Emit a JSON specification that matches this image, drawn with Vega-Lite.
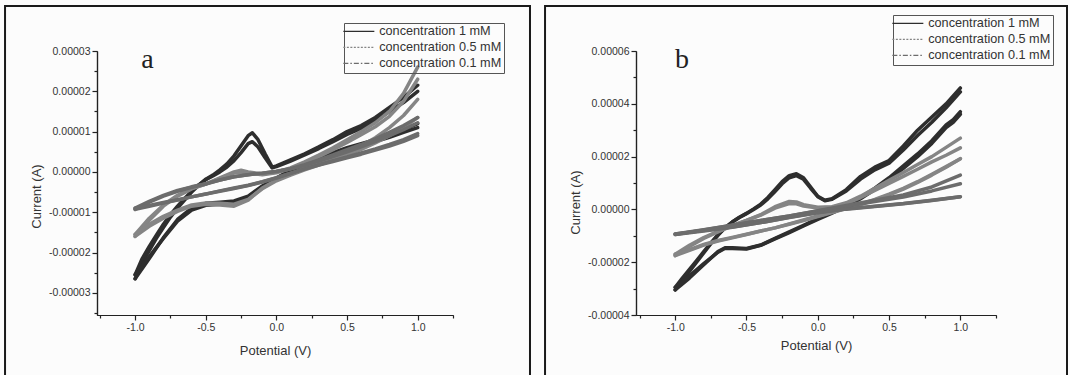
{
  "$schema": "https://vega.github.io/schema/vega-lite/v6.json",
  "autosize": {"type": "pad"},
  "padding": {"left": 4, "top": 4, "right": 4, "bottom": 4},
  "background": "#fcfcfc",
  "spacing": 183,
  "bounds": "flush",
  "config": {
    "view": {"stroke": null},
    "font": "Liberation Sans",
    "axis": {"domainColor": "#222", "tickColor": "#222", "domainWidth": 1.2, "tickWidth": 1.2, "labelFont": "Liberation Sans", "labelFontSize": 10.5, "labelColor": "#333", "titleFont": "Liberation Sans", "titleFontSize": 13, "titleFontWeight": "normal", "titleColor": "#333", "grid": false, "tickSize": 5, "labelPadding": 2},
    "legend": {"labelFont": "Liberation Sans", "labelFontSize": 12.7, "labelColor": "#333", "strokeColor": "#555", "padding": 2, "rowPadding": 2, "symbolType": "M-3.1,0H3.1", "symbolSize": 100, "symbolStrokeWidth": 1.2, "symbolOffset": 6.5, "labelOffset": 14}
  },
  "resolve": {"scale": {"color": "independent", "x": "independent", "y": "independent"}, "legend": {"color": "independent"}},
  "datasets": {
    "a": [
      {"s":"1","c":1,"k":0,"E":-1.0,"I":-2.65e-5},{"s":"1","c":1,"k":1,"E":-0.95,"I":-2.25e-5},{"s":"1","c":1,"k":2,"E":-0.9,"I":-1.95e-5},{"s":"1","c":1,"k":3,"E":-0.85,"I":-1.65e-5},{"s":"1","c":1,"k":4,"E":-0.8,"I":-1.38e-5},{"s":"1","c":1,"k":5,"E":-0.75,"I":-1.12e-5},{"s":"1","c":1,"k":6,"E":-0.7,"I":-0.9e-5},{"s":"1","c":1,"k":7,"E":-0.65,"I":-0.7e-5},{"s":"1","c":1,"k":8,"E":-0.6,"I":-0.5e-5},{"s":"1","c":1,"k":9,"E":-0.55,"I":-0.33e-5},{"s":"1","c":1,"k":10,"E":-0.5,"I":-0.18e-5},{"s":"1","c":1,"k":11,"E":-0.45,"I":-0.08e-5},{"s":"1","c":1,"k":12,"E":-0.4,"I":0.05e-5},{"s":"1","c":1,"k":13,"E":-0.35,"I":0.2e-5},{"s":"1","c":1,"k":14,"E":-0.3,"I":0.4e-5},{"s":"1","c":1,"k":15,"E":-0.25,"I":0.65e-5},{"s":"1","c":1,"k":16,"E":-0.2,"I":0.9e-5},{"s":"1","c":1,"k":17,"E":-0.17,"I":0.97e-5},{"s":"1","c":1,"k":18,"E":-0.13,"I":0.8e-5},{"s":"1","c":1,"k":19,"E":-0.08,"I":0.45e-5},{"s":"1","c":1,"k":20,"E":-0.03,"I":0.12e-5},{"s":"1","c":1,"k":21,"E":0.0,"I":0.15e-5},{"s":"1","c":1,"k":22,"E":0.1,"I":0.3e-5},{"s":"1","c":1,"k":23,"E":0.2,"I":0.45e-5},{"s":"1","c":1,"k":24,"E":0.3,"I":0.62e-5},{"s":"1","c":1,"k":25,"E":0.4,"I":0.8e-5},{"s":"1","c":1,"k":26,"E":0.5,"I":1.0e-5},{"s":"1","c":1,"k":27,"E":0.6,"I":1.15e-5},{"s":"1","c":1,"k":28,"E":0.7,"I":1.35e-5},{"s":"1","c":1,"k":29,"E":0.8,"I":1.6e-5},{"s":"1","c":1,"k":30,"E":0.9,"I":1.85e-5},{"s":"1","c":1,"k":31,"E":1.0,"I":2.15e-5},
      {"s":"1","c":11,"k":32,"E":1.0,"I":1.2e-5},{"s":"1","c":11,"k":33,"E":0.9,"I":1.05e-5},{"s":"1","c":11,"k":34,"E":0.8,"I":0.92e-5},{"s":"1","c":11,"k":35,"E":0.7,"I":0.8e-5},{"s":"1","c":11,"k":36,"E":0.6,"I":0.7e-5},{"s":"1","c":11,"k":37,"E":0.5,"I":0.6e-5},{"s":"1","c":11,"k":38,"E":0.4,"I":0.48e-5},{"s":"1","c":11,"k":39,"E":0.3,"I":0.35e-5},{"s":"1","c":11,"k":40,"E":0.2,"I":0.2e-5},{"s":"1","c":11,"k":41,"E":0.1,"I":0.05e-5},{"s":"1","c":11,"k":42,"E":0.0,"I":-0.15e-5},{"s":"1","c":11,"k":43,"E":-0.1,"I":-0.35e-5},{"s":"1","c":11,"k":44,"E":-0.2,"I":-0.6e-5},{"s":"1","c":11,"k":45,"E":-0.3,"I":-0.72e-5},{"s":"1","c":11,"k":46,"E":-0.4,"I":-0.75e-5},{"s":"1","c":11,"k":47,"E":-0.5,"I":-0.78e-5},{"s":"1","c":11,"k":48,"E":-0.6,"I":-0.9e-5},{"s":"1","c":11,"k":49,"E":-0.7,"I":-1.18e-5},{"s":"1","c":11,"k":50,"E":-0.8,"I":-1.63e-5},{"s":"1","c":11,"k":51,"E":-0.9,"I":-2.15e-5},{"s":"1","c":11,"k":52,"E":-1.0,"I":-2.65e-5},
      {"s":"1","c":2,"k":0,"E":-1.0,"I":-2.55e-5},{"s":"1","c":2,"k":1,"E":-0.95,"I":-2.15e-5},{"s":"1","c":2,"k":2,"E":-0.9,"I":-1.85e-5},{"s":"1","c":2,"k":3,"E":-0.85,"I":-1.57e-5},{"s":"1","c":2,"k":4,"E":-0.8,"I":-1.3e-5},{"s":"1","c":2,"k":5,"E":-0.75,"I":-1.06e-5},{"s":"1","c":2,"k":6,"E":-0.7,"I":-0.85e-5},{"s":"1","c":2,"k":7,"E":-0.65,"I":-0.66e-5},{"s":"1","c":2,"k":8,"E":-0.6,"I":-0.48e-5},{"s":"1","c":2,"k":9,"E":-0.55,"I":-0.32e-5},{"s":"1","c":2,"k":10,"E":-0.5,"I":-0.19e-5},{"s":"1","c":2,"k":11,"E":-0.45,"I":-0.1e-5},{"s":"1","c":2,"k":12,"E":-0.4,"I":0.0},{"s":"1","c":2,"k":13,"E":-0.35,"I":0.12e-5},{"s":"1","c":2,"k":14,"E":-0.3,"I":0.28e-5},{"s":"1","c":2,"k":15,"E":-0.25,"I":0.48e-5},{"s":"1","c":2,"k":16,"E":-0.2,"I":0.7e-5},{"s":"1","c":2,"k":17,"E":-0.17,"I":0.75e-5},{"s":"1","c":2,"k":18,"E":-0.13,"I":0.62e-5},{"s":"1","c":2,"k":19,"E":-0.08,"I":0.35e-5},{"s":"1","c":2,"k":20,"E":-0.03,"I":0.1e-5},{"s":"1","c":2,"k":21,"E":0.0,"I":0.13e-5},{"s":"1","c":2,"k":22,"E":0.1,"I":0.27e-5},{"s":"1","c":2,"k":23,"E":0.2,"I":0.42e-5},{"s":"1","c":2,"k":24,"E":0.3,"I":0.58e-5},{"s":"1","c":2,"k":25,"E":0.4,"I":0.75e-5},{"s":"1","c":2,"k":26,"E":0.5,"I":0.93e-5},{"s":"1","c":2,"k":27,"E":0.6,"I":1.08e-5},{"s":"1","c":2,"k":28,"E":0.7,"I":1.27e-5},{"s":"1","c":2,"k":29,"E":0.8,"I":1.5e-5},{"s":"1","c":2,"k":30,"E":0.9,"I":1.72e-5},{"s":"1","c":2,"k":31,"E":1.0,"I":2.0e-5},
      {"s":"1","c":12,"k":32,"E":1.0,"I":1.1e-5},{"s":"1","c":12,"k":33,"E":0.9,"I":0.98e-5},{"s":"1","c":12,"k":34,"E":0.8,"I":0.86e-5},{"s":"1","c":12,"k":35,"E":0.7,"I":0.75e-5},{"s":"1","c":12,"k":36,"E":0.6,"I":0.65e-5},{"s":"1","c":12,"k":37,"E":0.5,"I":0.55e-5},{"s":"1","c":12,"k":38,"E":0.4,"I":0.44e-5},{"s":"1","c":12,"k":39,"E":0.3,"I":0.32e-5},{"s":"1","c":12,"k":40,"E":0.2,"I":0.18e-5},{"s":"1","c":12,"k":41,"E":0.1,"I":0.03e-5},{"s":"1","c":12,"k":42,"E":0.0,"I":-0.17e-5},{"s":"1","c":12,"k":43,"E":-0.1,"I":-0.37e-5},{"s":"1","c":12,"k":44,"E":-0.2,"I":-0.62e-5},{"s":"1","c":12,"k":45,"E":-0.3,"I":-0.75e-5},{"s":"1","c":12,"k":46,"E":-0.4,"I":-0.8e-5},{"s":"1","c":12,"k":47,"E":-0.5,"I":-0.83e-5},{"s":"1","c":12,"k":48,"E":-0.6,"I":-0.95e-5},{"s":"1","c":12,"k":49,"E":-0.7,"I":-1.22e-5},{"s":"1","c":12,"k":50,"E":-0.8,"I":-1.65e-5},{"s":"1","c":12,"k":51,"E":-0.9,"I":-2.1e-5},{"s":"1","c":12,"k":52,"E":-1.0,"I":-2.55e-5},
      {"s":"0.5","c":1,"k":0,"E":-1.0,"I":-1.6e-5},{"s":"0.5","c":1,"k":1,"E":-0.9,"I":-1.2e-5},{"s":"0.5","c":1,"k":2,"E":-0.8,"I":-0.85e-5},{"s":"0.5","c":1,"k":3,"E":-0.7,"I":-0.6e-5},{"s":"0.5","c":1,"k":4,"E":-0.6,"I":-0.42e-5},{"s":"0.5","c":1,"k":5,"E":-0.5,"I":-0.3e-5},{"s":"0.5","c":1,"k":6,"E":-0.4,"I":-0.15e-5},{"s":"0.5","c":1,"k":7,"E":-0.3,"I":0.0},{"s":"0.5","c":1,"k":8,"E":-0.25,"I":0.04e-5},{"s":"0.5","c":1,"k":9,"E":-0.2,"I":0.0},{"s":"0.5","c":1,"k":10,"E":-0.1,"I":-0.05e-5},{"s":"0.5","c":1,"k":11,"E":0.0,"I":0.0},{"s":"0.5","c":1,"k":12,"E":0.1,"I":0.1e-5},{"s":"0.5","c":1,"k":13,"E":0.2,"I":0.25e-5},{"s":"0.5","c":1,"k":14,"E":0.3,"I":0.42e-5},{"s":"0.5","c":1,"k":15,"E":0.4,"I":0.6e-5},{"s":"0.5","c":1,"k":16,"E":0.5,"I":0.8e-5},{"s":"0.5","c":1,"k":17,"E":0.6,"I":1.0e-5},{"s":"0.5","c":1,"k":18,"E":0.7,"I":1.22e-5},{"s":"0.5","c":1,"k":19,"E":0.8,"I":1.5e-5},{"s":"0.5","c":1,"k":20,"E":0.9,"I":1.95e-5},{"s":"0.5","c":1,"k":21,"E":1.0,"I":2.6e-5},
      {"s":"0.5","c":11,"k":22,"E":1.0,"I":1.8e-5},{"s":"0.5","c":11,"k":23,"E":0.9,"I":1.4e-5},{"s":"0.5","c":11,"k":24,"E":0.8,"I":1.1e-5},{"s":"0.5","c":11,"k":25,"E":0.7,"I":0.85e-5},{"s":"0.5","c":11,"k":26,"E":0.6,"I":0.65e-5},{"s":"0.5","c":11,"k":27,"E":0.5,"I":0.47e-5},{"s":"0.5","c":11,"k":28,"E":0.4,"I":0.32e-5},{"s":"0.5","c":11,"k":29,"E":0.3,"I":0.2e-5},{"s":"0.5","c":11,"k":30,"E":0.2,"I":0.08e-5},{"s":"0.5","c":11,"k":31,"E":0.1,"I":-0.05e-5},{"s":"0.5","c":11,"k":32,"E":0.0,"I":-0.2e-5},{"s":"0.5","c":11,"k":33,"E":-0.1,"I":-0.4e-5},{"s":"0.5","c":11,"k":34,"E":-0.2,"I":-0.7e-5},{"s":"0.5","c":11,"k":35,"E":-0.3,"I":-0.85e-5},{"s":"0.5","c":11,"k":36,"E":-0.4,"I":-0.82e-5},{"s":"0.5","c":11,"k":37,"E":-0.5,"I":-0.8e-5},{"s":"0.5","c":11,"k":38,"E":-0.6,"I":-0.85e-5},{"s":"0.5","c":11,"k":39,"E":-0.7,"I":-0.98e-5},{"s":"0.5","c":11,"k":40,"E":-0.8,"I":-1.15e-5},{"s":"0.5","c":11,"k":41,"E":-0.9,"I":-1.35e-5},{"s":"0.5","c":11,"k":42,"E":-1.0,"I":-1.6e-5},
      {"s":"0.5","c":2,"k":0,"E":-1.0,"I":-1.55e-5},{"s":"0.5","c":2,"k":1,"E":-0.9,"I":-1.15e-5},{"s":"0.5","c":2,"k":2,"E":-0.8,"I":-0.82e-5},{"s":"0.5","c":2,"k":3,"E":-0.7,"I":-0.58e-5},{"s":"0.5","c":2,"k":4,"E":-0.6,"I":-0.41e-5},{"s":"0.5","c":2,"k":5,"E":-0.5,"I":-0.3e-5},{"s":"0.5","c":2,"k":6,"E":-0.4,"I":-0.16e-5},{"s":"0.5","c":2,"k":7,"E":-0.3,"I":-0.03e-5},{"s":"0.5","c":2,"k":8,"E":-0.25,"I":0.0},{"s":"0.5","c":2,"k":9,"E":-0.2,"I":-0.03e-5},{"s":"0.5","c":2,"k":10,"E":-0.1,"I":-0.07e-5},{"s":"0.5","c":2,"k":11,"E":0.0,"I":-0.02e-5},{"s":"0.5","c":2,"k":12,"E":0.1,"I":0.08e-5},{"s":"0.5","c":2,"k":13,"E":0.2,"I":0.22e-5},{"s":"0.5","c":2,"k":14,"E":0.3,"I":0.38e-5},{"s":"0.5","c":2,"k":15,"E":0.4,"I":0.55e-5},{"s":"0.5","c":2,"k":16,"E":0.5,"I":0.73e-5},{"s":"0.5","c":2,"k":17,"E":0.6,"I":0.92e-5},{"s":"0.5","c":2,"k":18,"E":0.7,"I":1.12e-5},{"s":"0.5","c":2,"k":19,"E":0.8,"I":1.38e-5},{"s":"0.5","c":2,"k":20,"E":0.9,"I":1.75e-5},{"s":"0.5","c":2,"k":21,"E":1.0,"I":2.3e-5},
      {"s":"0.5","c":12,"k":22,"E":1.0,"I":1.35e-5},{"s":"0.5","c":12,"k":23,"E":0.9,"I":1.1e-5},{"s":"0.5","c":12,"k":24,"E":0.8,"I":0.9e-5},{"s":"0.5","c":12,"k":25,"E":0.7,"I":0.72e-5},{"s":"0.5","c":12,"k":26,"E":0.6,"I":0.56e-5},{"s":"0.5","c":12,"k":27,"E":0.5,"I":0.42e-5},{"s":"0.5","c":12,"k":28,"E":0.4,"I":0.29e-5},{"s":"0.5","c":12,"k":29,"E":0.3,"I":0.17e-5},{"s":"0.5","c":12,"k":30,"E":0.2,"I":0.05e-5},{"s":"0.5","c":12,"k":31,"E":0.1,"I":-0.08e-5},{"s":"0.5","c":12,"k":32,"E":0.0,"I":-0.22e-5},{"s":"0.5","c":12,"k":33,"E":-0.1,"I":-0.42e-5},{"s":"0.5","c":12,"k":34,"E":-0.2,"I":-0.68e-5},{"s":"0.5","c":12,"k":35,"E":-0.3,"I":-0.8e-5},{"s":"0.5","c":12,"k":36,"E":-0.4,"I":-0.78e-5},{"s":"0.5","c":12,"k":37,"E":-0.5,"I":-0.77e-5},{"s":"0.5","c":12,"k":38,"E":-0.6,"I":-0.82e-5},{"s":"0.5","c":12,"k":39,"E":-0.7,"I":-0.95e-5},{"s":"0.5","c":12,"k":40,"E":-0.8,"I":-1.1e-5},{"s":"0.5","c":12,"k":41,"E":-0.9,"I":-1.3e-5},{"s":"0.5","c":12,"k":42,"E":-1.0,"I":-1.55e-5},
      {"s":"0.1","c":1,"k":0,"E":-1.0,"I":-0.93e-5},{"s":"0.1","c":1,"k":1,"E":-0.9,"I":-0.75e-5},{"s":"0.1","c":1,"k":2,"E":-0.8,"I":-0.6e-5},{"s":"0.1","c":1,"k":3,"E":-0.7,"I":-0.48e-5},{"s":"0.1","c":1,"k":4,"E":-0.6,"I":-0.38e-5},{"s":"0.1","c":1,"k":5,"E":-0.5,"I":-0.3e-5},{"s":"0.1","c":1,"k":6,"E":-0.4,"I":-0.2e-5},{"s":"0.1","c":1,"k":7,"E":-0.3,"I":-0.12e-5},{"s":"0.1","c":1,"k":8,"E":-0.2,"I":-0.07e-5},{"s":"0.1","c":1,"k":9,"E":-0.1,"I":-0.03e-5},{"s":"0.1","c":1,"k":10,"E":0.0,"I":0.02e-5},{"s":"0.1","c":1,"k":11,"E":0.1,"I":0.08e-5},{"s":"0.1","c":1,"k":12,"E":0.2,"I":0.18e-5},{"s":"0.1","c":1,"k":13,"E":0.3,"I":0.3e-5},{"s":"0.1","c":1,"k":14,"E":0.4,"I":0.42e-5},{"s":"0.1","c":1,"k":15,"E":0.5,"I":0.55e-5},{"s":"0.1","c":1,"k":16,"E":0.6,"I":0.68e-5},{"s":"0.1","c":1,"k":17,"E":0.7,"I":0.82e-5},{"s":"0.1","c":1,"k":18,"E":0.8,"I":0.98e-5},{"s":"0.1","c":1,"k":19,"E":0.9,"I":1.15e-5},{"s":"0.1","c":1,"k":20,"E":1.0,"I":1.35e-5},
      {"s":"0.1","c":11,"k":21,"E":1.0,"I":0.95e-5},{"s":"0.1","c":11,"k":22,"E":0.9,"I":0.8e-5},{"s":"0.1","c":11,"k":23,"E":0.8,"I":0.68e-5},{"s":"0.1","c":11,"k":24,"E":0.7,"I":0.57e-5},{"s":"0.1","c":11,"k":25,"E":0.6,"I":0.47e-5},{"s":"0.1","c":11,"k":26,"E":0.5,"I":0.37e-5},{"s":"0.1","c":11,"k":27,"E":0.4,"I":0.28e-5},{"s":"0.1","c":11,"k":28,"E":0.3,"I":0.18e-5},{"s":"0.1","c":11,"k":29,"E":0.2,"I":0.08e-5},{"s":"0.1","c":11,"k":30,"E":0.1,"I":-0.03e-5},{"s":"0.1","c":11,"k":31,"E":0.0,"I":-0.14e-5},{"s":"0.1","c":11,"k":32,"E":-0.1,"I":-0.24e-5},{"s":"0.1","c":11,"k":33,"E":-0.2,"I":-0.33e-5},{"s":"0.1","c":11,"k":34,"E":-0.3,"I":-0.4e-5},{"s":"0.1","c":11,"k":35,"E":-0.4,"I":-0.47e-5},{"s":"0.1","c":11,"k":36,"E":-0.5,"I":-0.55e-5},{"s":"0.1","c":11,"k":37,"E":-0.6,"I":-0.62e-5},{"s":"0.1","c":11,"k":38,"E":-0.7,"I":-0.7e-5},{"s":"0.1","c":11,"k":39,"E":-0.8,"I":-0.77e-5},{"s":"0.1","c":11,"k":40,"E":-0.9,"I":-0.85e-5},{"s":"0.1","c":11,"k":41,"E":-1.0,"I":-0.93e-5},
      {"s":"0.1","c":2,"k":0,"E":-1.0,"I":-0.9e-5},{"s":"0.1","c":2,"k":1,"E":-0.9,"I":-0.73e-5},{"s":"0.1","c":2,"k":2,"E":-0.8,"I":-0.58e-5},{"s":"0.1","c":2,"k":3,"E":-0.7,"I":-0.46e-5},{"s":"0.1","c":2,"k":4,"E":-0.6,"I":-0.37e-5},{"s":"0.1","c":2,"k":5,"E":-0.5,"I":-0.29e-5},{"s":"0.1","c":2,"k":6,"E":-0.4,"I":-0.2e-5},{"s":"0.1","c":2,"k":7,"E":-0.3,"I":-0.12e-5},{"s":"0.1","c":2,"k":8,"E":-0.2,"I":-0.07e-5},{"s":"0.1","c":2,"k":9,"E":-0.1,"I":-0.03e-5},{"s":"0.1","c":2,"k":10,"E":0.0,"I":0.01e-5},{"s":"0.1","c":2,"k":11,"E":0.1,"I":0.07e-5},{"s":"0.1","c":2,"k":12,"E":0.2,"I":0.16e-5},{"s":"0.1","c":2,"k":13,"E":0.3,"I":0.27e-5},{"s":"0.1","c":2,"k":14,"E":0.4,"I":0.38e-5},{"s":"0.1","c":2,"k":15,"E":0.5,"I":0.5e-5},{"s":"0.1","c":2,"k":16,"E":0.6,"I":0.62e-5},{"s":"0.1","c":2,"k":17,"E":0.7,"I":0.75e-5},{"s":"0.1","c":2,"k":18,"E":0.8,"I":0.9e-5},{"s":"0.1","c":2,"k":19,"E":0.9,"I":1.05e-5},{"s":"0.1","c":2,"k":20,"E":1.0,"I":1.22e-5},
      {"s":"0.1","c":12,"k":21,"E":1.0,"I":0.9e-5},{"s":"0.1","c":12,"k":22,"E":0.9,"I":0.76e-5},{"s":"0.1","c":12,"k":23,"E":0.8,"I":0.64e-5},{"s":"0.1","c":12,"k":24,"E":0.7,"I":0.54e-5},{"s":"0.1","c":12,"k":25,"E":0.6,"I":0.44e-5},{"s":"0.1","c":12,"k":26,"E":0.5,"I":0.35e-5},{"s":"0.1","c":12,"k":27,"E":0.4,"I":0.26e-5},{"s":"0.1","c":12,"k":28,"E":0.3,"I":0.17e-5},{"s":"0.1","c":12,"k":29,"E":0.2,"I":0.07e-5},{"s":"0.1","c":12,"k":30,"E":0.1,"I":-0.04e-5},{"s":"0.1","c":12,"k":31,"E":0.0,"I":-0.15e-5},{"s":"0.1","c":12,"k":32,"E":-0.1,"I":-0.25e-5},{"s":"0.1","c":12,"k":33,"E":-0.2,"I":-0.34e-5},{"s":"0.1","c":12,"k":34,"E":-0.3,"I":-0.41e-5},{"s":"0.1","c":12,"k":35,"E":-0.4,"I":-0.48e-5},{"s":"0.1","c":12,"k":36,"E":-0.5,"I":-0.55e-5},{"s":"0.1","c":12,"k":37,"E":-0.6,"I":-0.62e-5},{"s":"0.1","c":12,"k":38,"E":-0.7,"I":-0.69e-5},{"s":"0.1","c":12,"k":39,"E":-0.8,"I":-0.76e-5},{"s":"0.1","c":12,"k":40,"E":-0.9,"I":-0.83e-5},{"s":"0.1","c":12,"k":41,"E":-1.0,"I":-0.9e-5}
    ],
    "b": [
      {"s":"1","c":1,"k":0,"E":-1.0,"I":-3.05e-5},{"s":"1","c":1,"k":1,"E":-0.95,"I":-2.7e-5},{"s":"1","c":1,"k":2,"E":-0.9,"I":-2.35e-5},{"s":"1","c":1,"k":3,"E":-0.85,"I":-2.0e-5},{"s":"1","c":1,"k":4,"E":-0.8,"I":-1.65e-5},{"s":"1","c":1,"k":5,"E":-0.75,"I":-1.3e-5},{"s":"1","c":1,"k":6,"E":-0.7,"I":-0.98e-5},{"s":"1","c":1,"k":7,"E":-0.65,"I":-0.7e-5},{"s":"1","c":1,"k":8,"E":-0.6,"I":-0.48e-5},{"s":"1","c":1,"k":9,"E":-0.55,"I":-0.3e-5},{"s":"1","c":1,"k":10,"E":-0.5,"I":-0.15e-5},{"s":"1","c":1,"k":11,"E":-0.45,"I":0.02e-5},{"s":"1","c":1,"k":12,"E":-0.4,"I":0.2e-5},{"s":"1","c":1,"k":13,"E":-0.35,"I":0.45e-5},{"s":"1","c":1,"k":14,"E":-0.3,"I":0.75e-5},{"s":"1","c":1,"k":15,"E":-0.25,"I":1.05e-5},{"s":"1","c":1,"k":16,"E":-0.2,"I":1.28e-5},{"s":"1","c":1,"k":17,"E":-0.15,"I":1.35e-5},{"s":"1","c":1,"k":18,"E":-0.1,"I":1.2e-5},{"s":"1","c":1,"k":19,"E":-0.05,"I":0.85e-5},{"s":"1","c":1,"k":20,"E":0.0,"I":0.5e-5},{"s":"1","c":1,"k":21,"E":0.05,"I":0.35e-5},{"s":"1","c":1,"k":22,"E":0.1,"I":0.4e-5},{"s":"1","c":1,"k":23,"E":0.2,"I":0.75e-5},{"s":"1","c":1,"k":24,"E":0.3,"I":1.25e-5},{"s":"1","c":1,"k":25,"E":0.4,"I":1.6e-5},{"s":"1","c":1,"k":26,"E":0.5,"I":1.85e-5},{"s":"1","c":1,"k":27,"E":0.6,"I":2.4e-5},{"s":"1","c":1,"k":28,"E":0.7,"I":3.0e-5},{"s":"1","c":1,"k":29,"E":0.8,"I":3.5e-5},{"s":"1","c":1,"k":30,"E":0.9,"I":4.0e-5},{"s":"1","c":1,"k":31,"E":1.0,"I":4.6e-5},
      {"s":"1","c":11,"k":32,"E":1.0,"I":3.7e-5},{"s":"1","c":11,"k":33,"E":0.95,"I":3.4e-5},{"s":"1","c":11,"k":34,"E":0.9,"I":3.2e-5},{"s":"1","c":11,"k":35,"E":0.8,"I":2.6e-5},{"s":"1","c":11,"k":36,"E":0.7,"I":2.1e-5},{"s":"1","c":11,"k":37,"E":0.6,"I":1.65e-5},{"s":"1","c":11,"k":38,"E":0.5,"I":1.2e-5},{"s":"1","c":11,"k":39,"E":0.4,"I":0.8e-5},{"s":"1","c":11,"k":40,"E":0.3,"I":0.45e-5},{"s":"1","c":11,"k":41,"E":0.2,"I":0.15e-5},{"s":"1","c":11,"k":42,"E":0.1,"I":-0.1e-5},{"s":"1","c":11,"k":43,"E":0.0,"I":-0.35e-5},{"s":"1","c":11,"k":44,"E":-0.1,"I":-0.6e-5},{"s":"1","c":11,"k":45,"E":-0.2,"I":-0.85e-5},{"s":"1","c":11,"k":46,"E":-0.3,"I":-1.1e-5},{"s":"1","c":11,"k":47,"E":-0.4,"I":-1.35e-5},{"s":"1","c":11,"k":48,"E":-0.5,"I":-1.48e-5},{"s":"1","c":11,"k":49,"E":-0.6,"I":-1.45e-5},{"s":"1","c":11,"k":50,"E":-0.65,"I":-1.45e-5},{"s":"1","c":11,"k":51,"E":-0.7,"I":-1.6e-5},{"s":"1","c":11,"k":52,"E":-0.8,"I":-2.1e-5},{"s":"1","c":11,"k":53,"E":-0.9,"I":-2.6e-5},{"s":"1","c":11,"k":54,"E":-1.0,"I":-3.05e-5},
      {"s":"1","c":2,"k":0,"E":-1.0,"I":-2.95e-5},{"s":"1","c":2,"k":1,"E":-0.95,"I":-2.6e-5},{"s":"1","c":2,"k":2,"E":-0.9,"I":-2.27e-5},{"s":"1","c":2,"k":3,"E":-0.85,"I":-1.94e-5},{"s":"1","c":2,"k":4,"E":-0.8,"I":-1.6e-5},{"s":"1","c":2,"k":5,"E":-0.75,"I":-1.27e-5},{"s":"1","c":2,"k":6,"E":-0.7,"I":-0.96e-5},{"s":"1","c":2,"k":7,"E":-0.65,"I":-0.69e-5},{"s":"1","c":2,"k":8,"E":-0.6,"I":-0.48e-5},{"s":"1","c":2,"k":9,"E":-0.55,"I":-0.31e-5},{"s":"1","c":2,"k":10,"E":-0.5,"I":-0.16e-5},{"s":"1","c":2,"k":11,"E":-0.45,"I":0.0},{"s":"1","c":2,"k":12,"E":-0.4,"I":0.17e-5},{"s":"1","c":2,"k":13,"E":-0.35,"I":0.4e-5},{"s":"1","c":2,"k":14,"E":-0.3,"I":0.68e-5},{"s":"1","c":2,"k":15,"E":-0.25,"I":0.97e-5},{"s":"1","c":2,"k":16,"E":-0.2,"I":1.2e-5},{"s":"1","c":2,"k":17,"E":-0.15,"I":1.28e-5},{"s":"1","c":2,"k":18,"E":-0.1,"I":1.14e-5},{"s":"1","c":2,"k":19,"E":-0.05,"I":0.8e-5},{"s":"1","c":2,"k":20,"E":0.0,"I":0.48e-5},{"s":"1","c":2,"k":21,"E":0.05,"I":0.33e-5},{"s":"1","c":2,"k":22,"E":0.1,"I":0.38e-5},{"s":"1","c":2,"k":23,"E":0.2,"I":0.7e-5},{"s":"1","c":2,"k":24,"E":0.3,"I":1.15e-5},{"s":"1","c":2,"k":25,"E":0.4,"I":1.5e-5},{"s":"1","c":2,"k":26,"E":0.5,"I":1.75e-5},{"s":"1","c":2,"k":27,"E":0.6,"I":2.25e-5},{"s":"1","c":2,"k":28,"E":0.7,"I":2.8e-5},{"s":"1","c":2,"k":29,"E":0.8,"I":3.3e-5},{"s":"1","c":2,"k":30,"E":0.9,"I":3.85e-5},{"s":"1","c":2,"k":31,"E":1.0,"I":4.45e-5},
      {"s":"1","c":12,"k":32,"E":1.0,"I":3.6e-5},{"s":"1","c":12,"k":33,"E":0.95,"I":3.3e-5},{"s":"1","c":12,"k":34,"E":0.9,"I":3.1e-5},{"s":"1","c":12,"k":35,"E":0.8,"I":2.5e-5},{"s":"1","c":12,"k":36,"E":0.7,"I":2.0e-5},{"s":"1","c":12,"k":37,"E":0.6,"I":1.55e-5},{"s":"1","c":12,"k":38,"E":0.5,"I":1.12e-5},{"s":"1","c":12,"k":39,"E":0.4,"I":0.75e-5},{"s":"1","c":12,"k":40,"E":0.3,"I":0.4e-5},{"s":"1","c":12,"k":41,"E":0.2,"I":0.1e-5},{"s":"1","c":12,"k":42,"E":0.1,"I":-0.14e-5},{"s":"1","c":12,"k":43,"E":0.0,"I":-0.38e-5},{"s":"1","c":12,"k":44,"E":-0.1,"I":-0.63e-5},{"s":"1","c":12,"k":45,"E":-0.2,"I":-0.88e-5},{"s":"1","c":12,"k":46,"E":-0.3,"I":-1.12e-5},{"s":"1","c":12,"k":47,"E":-0.4,"I":-1.36e-5},{"s":"1","c":12,"k":48,"E":-0.5,"I":-1.5e-5},{"s":"1","c":12,"k":49,"E":-0.6,"I":-1.48e-5},{"s":"1","c":12,"k":50,"E":-0.65,"I":-1.47e-5},{"s":"1","c":12,"k":51,"E":-0.7,"I":-1.62e-5},{"s":"1","c":12,"k":52,"E":-0.8,"I":-2.05e-5},{"s":"1","c":12,"k":53,"E":-0.9,"I":-2.52e-5},{"s":"1","c":12,"k":54,"E":-1.0,"I":-2.95e-5},
      {"s":"0.5","c":1,"k":0,"E":-1.0,"I":-1.75e-5},{"s":"0.5","c":1,"k":1,"E":-0.9,"I":-1.4e-5},{"s":"0.5","c":1,"k":2,"E":-0.8,"I":-1.1e-5},{"s":"0.5","c":1,"k":3,"E":-0.7,"I":-0.85e-5},{"s":"0.5","c":1,"k":4,"E":-0.6,"I":-0.62e-5},{"s":"0.5","c":1,"k":5,"E":-0.5,"I":-0.42e-5},{"s":"0.5","c":1,"k":6,"E":-0.4,"I":-0.2e-5},{"s":"0.5","c":1,"k":7,"E":-0.3,"I":0.1e-5},{"s":"0.5","c":1,"k":8,"E":-0.2,"I":0.3e-5},{"s":"0.5","c":1,"k":9,"E":-0.15,"I":0.28e-5},{"s":"0.5","c":1,"k":10,"E":-0.1,"I":0.18e-5},{"s":"0.5","c":1,"k":11,"E":0.0,"I":0.08e-5},{"s":"0.5","c":1,"k":12,"E":0.1,"I":0.1e-5},{"s":"0.5","c":1,"k":13,"E":0.2,"I":0.25e-5},{"s":"0.5","c":1,"k":14,"E":0.3,"I":0.5e-5},{"s":"0.5","c":1,"k":15,"E":0.4,"I":0.8e-5},{"s":"0.5","c":1,"k":16,"E":0.5,"I":1.1e-5},{"s":"0.5","c":1,"k":17,"E":0.6,"I":1.4e-5},{"s":"0.5","c":1,"k":18,"E":0.7,"I":1.7e-5},{"s":"0.5","c":1,"k":19,"E":0.8,"I":2.0e-5},{"s":"0.5","c":1,"k":20,"E":0.9,"I":2.35e-5},{"s":"0.5","c":1,"k":21,"E":1.0,"I":2.7e-5},
      {"s":"0.5","c":11,"k":22,"E":1.0,"I":1.92e-5},{"s":"0.5","c":11,"k":23,"E":0.9,"I":1.62e-5},{"s":"0.5","c":11,"k":24,"E":0.8,"I":1.33e-5},{"s":"0.5","c":11,"k":25,"E":0.7,"I":1.05e-5},{"s":"0.5","c":11,"k":26,"E":0.6,"I":0.8e-5},{"s":"0.5","c":11,"k":27,"E":0.5,"I":0.58e-5},{"s":"0.5","c":11,"k":28,"E":0.4,"I":0.38e-5},{"s":"0.5","c":11,"k":29,"E":0.3,"I":0.2e-5},{"s":"0.5","c":11,"k":30,"E":0.2,"I":0.05e-5},{"s":"0.5","c":11,"k":31,"E":0.1,"I":-0.1e-5},{"s":"0.5","c":11,"k":32,"E":0.0,"I":-0.25e-5},{"s":"0.5","c":11,"k":33,"E":-0.1,"I":-0.4e-5},{"s":"0.5","c":11,"k":34,"E":-0.2,"I":-0.55e-5},{"s":"0.5","c":11,"k":35,"E":-0.3,"I":-0.7e-5},{"s":"0.5","c":11,"k":36,"E":-0.4,"I":-0.82e-5},{"s":"0.5","c":11,"k":37,"E":-0.5,"I":-0.95e-5},{"s":"0.5","c":11,"k":38,"E":-0.6,"I":-1.08e-5},{"s":"0.5","c":11,"k":39,"E":-0.7,"I":-1.2e-5},{"s":"0.5","c":11,"k":40,"E":-0.8,"I":-1.35e-5},{"s":"0.5","c":11,"k":41,"E":-0.9,"I":-1.55e-5},{"s":"0.5","c":11,"k":42,"E":-1.0,"I":-1.75e-5},
      {"s":"0.5","c":2,"k":0,"E":-1.0,"I":-1.7e-5},{"s":"0.5","c":2,"k":1,"E":-0.9,"I":-1.36e-5},{"s":"0.5","c":2,"k":2,"E":-0.8,"I":-1.07e-5},{"s":"0.5","c":2,"k":3,"E":-0.7,"I":-0.83e-5},{"s":"0.5","c":2,"k":4,"E":-0.6,"I":-0.61e-5},{"s":"0.5","c":2,"k":5,"E":-0.5,"I":-0.42e-5},{"s":"0.5","c":2,"k":6,"E":-0.4,"I":-0.22e-5},{"s":"0.5","c":2,"k":7,"E":-0.3,"I":0.05e-5},{"s":"0.5","c":2,"k":8,"E":-0.2,"I":0.22e-5},{"s":"0.5","c":2,"k":9,"E":-0.15,"I":0.21e-5},{"s":"0.5","c":2,"k":10,"E":-0.1,"I":0.13e-5},{"s":"0.5","c":2,"k":11,"E":0.0,"I":0.05e-5},{"s":"0.5","c":2,"k":12,"E":0.1,"I":0.08e-5},{"s":"0.5","c":2,"k":13,"E":0.2,"I":0.22e-5},{"s":"0.5","c":2,"k":14,"E":0.3,"I":0.45e-5},{"s":"0.5","c":2,"k":15,"E":0.4,"I":0.72e-5},{"s":"0.5","c":2,"k":16,"E":0.5,"I":0.98e-5},{"s":"0.5","c":2,"k":17,"E":0.6,"I":1.25e-5},{"s":"0.5","c":2,"k":18,"E":0.7,"I":1.52e-5},{"s":"0.5","c":2,"k":19,"E":0.8,"I":1.8e-5},{"s":"0.5","c":2,"k":20,"E":0.9,"I":2.05e-5},{"s":"0.5","c":2,"k":21,"E":1.0,"I":2.33e-5},
      {"s":"0.5","c":12,"k":22,"E":1.0,"I":1.92e-5},{"s":"0.5","c":12,"k":23,"E":0.9,"I":1.6e-5},{"s":"0.5","c":12,"k":24,"E":0.8,"I":1.3e-5},{"s":"0.5","c":12,"k":25,"E":0.7,"I":1.02e-5},{"s":"0.5","c":12,"k":26,"E":0.6,"I":0.77e-5},{"s":"0.5","c":12,"k":27,"E":0.5,"I":0.55e-5},{"s":"0.5","c":12,"k":28,"E":0.4,"I":0.35e-5},{"s":"0.5","c":12,"k":29,"E":0.3,"I":0.18e-5},{"s":"0.5","c":12,"k":30,"E":0.2,"I":0.03e-5},{"s":"0.5","c":12,"k":31,"E":0.1,"I":-0.12e-5},{"s":"0.5","c":12,"k":32,"E":0.0,"I":-0.27e-5},{"s":"0.5","c":12,"k":33,"E":-0.1,"I":-0.42e-5},{"s":"0.5","c":12,"k":34,"E":-0.2,"I":-0.56e-5},{"s":"0.5","c":12,"k":35,"E":-0.3,"I":-0.7e-5},{"s":"0.5","c":12,"k":36,"E":-0.4,"I":-0.82e-5},{"s":"0.5","c":12,"k":37,"E":-0.5,"I":-0.94e-5},{"s":"0.5","c":12,"k":38,"E":-0.6,"I":-1.06e-5},{"s":"0.5","c":12,"k":39,"E":-0.7,"I":-1.18e-5},{"s":"0.5","c":12,"k":40,"E":-0.8,"I":-1.33e-5},{"s":"0.5","c":12,"k":41,"E":-0.9,"I":-1.52e-5},{"s":"0.5","c":12,"k":42,"E":-1.0,"I":-1.7e-5},
      {"s":"0.1","c":1,"k":0,"E":-1.0,"I":-0.95e-5},{"s":"0.1","c":1,"k":1,"E":-0.8,"I":-0.78e-5},{"s":"0.1","c":1,"k":2,"E":-0.6,"I":-0.6e-5},{"s":"0.1","c":1,"k":3,"E":-0.4,"I":-0.42e-5},{"s":"0.1","c":1,"k":4,"E":-0.2,"I":-0.25e-5},{"s":"0.1","c":1,"k":5,"E":0.0,"I":-0.05e-5},{"s":"0.1","c":1,"k":6,"E":0.2,"I":0.15e-5},{"s":"0.1","c":1,"k":7,"E":0.4,"I":0.35e-5},{"s":"0.1","c":1,"k":8,"E":0.6,"I":0.55e-5},{"s":"0.1","c":1,"k":9,"E":0.8,"I":0.85e-5},{"s":"0.1","c":1,"k":10,"E":1.0,"I":1.3e-5},
      {"s":"0.1","c":11,"k":11,"E":1.0,"I":0.48e-5},{"s":"0.1","c":11,"k":12,"E":0.8,"I":0.35e-5},{"s":"0.1","c":11,"k":13,"E":0.6,"I":0.22e-5},{"s":"0.1","c":11,"k":14,"E":0.4,"I":0.12e-5},{"s":"0.1","c":11,"k":15,"E":0.2,"I":0.02e-5},{"s":"0.1","c":11,"k":16,"E":0.0,"I":-0.12e-5},{"s":"0.1","c":11,"k":17,"E":-0.2,"I":-0.3e-5},{"s":"0.1","c":11,"k":18,"E":-0.4,"I":-0.5e-5},{"s":"0.1","c":11,"k":19,"E":-0.6,"I":-0.68e-5},{"s":"0.1","c":11,"k":20,"E":-0.8,"I":-0.82e-5},{"s":"0.1","c":11,"k":21,"E":-1.0,"I":-0.95e-5},
      {"s":"0.1","c":2,"k":0,"E":-1.0,"I":-0.93e-5},{"s":"0.1","c":2,"k":1,"E":-0.8,"I":-0.77e-5},{"s":"0.1","c":2,"k":2,"E":-0.6,"I":-0.6e-5},{"s":"0.1","c":2,"k":3,"E":-0.4,"I":-0.42e-5},{"s":"0.1","c":2,"k":4,"E":-0.2,"I":-0.25e-5},{"s":"0.1","c":2,"k":5,"E":0.0,"I":-0.06e-5},{"s":"0.1","c":2,"k":6,"E":0.2,"I":0.12e-5},{"s":"0.1","c":2,"k":7,"E":0.4,"I":0.3e-5},{"s":"0.1","c":2,"k":8,"E":0.6,"I":0.47e-5},{"s":"0.1","c":2,"k":9,"E":0.8,"I":0.7e-5},{"s":"0.1","c":2,"k":10,"E":1.0,"I":0.97e-5},
      {"s":"0.1","c":12,"k":11,"E":1.0,"I":0.48e-5},{"s":"0.1","c":12,"k":12,"E":0.8,"I":0.34e-5},{"s":"0.1","c":12,"k":13,"E":0.6,"I":0.21e-5},{"s":"0.1","c":12,"k":14,"E":0.4,"I":0.11e-5},{"s":"0.1","c":12,"k":15,"E":0.2,"I":0.01e-5},{"s":"0.1","c":12,"k":16,"E":0.0,"I":-0.13e-5},{"s":"0.1","c":12,"k":17,"E":-0.2,"I":-0.31e-5},{"s":"0.1","c":12,"k":18,"E":-0.4,"I":-0.5e-5},{"s":"0.1","c":12,"k":19,"E":-0.6,"I":-0.67e-5},{"s":"0.1","c":12,"k":20,"E":-0.8,"I":-0.8e-5},{"s":"0.1","c":12,"k":21,"E":-1.0,"I":-0.93e-5}
    ]
  },
  "hconcat": [
    {
      "width": 356,
      "height": 264,
      "resolve": {"axis": {"x": "independent", "y": "independent"}},
      "layer": [
        {
          "data": {"values": [{"x1": -1.921, "x2": 1.795, "y1": 4.116e-5, "y2": -6e-5}]},
          "mark": {"type": "rect", "filled": false, "stroke": "#1a1a1a", "strokeWidth": 2, "clip": false},
          "encoding": {
            "x": {"field": "x1", "type": "quantitative", "scale": {"domain": [-1.27, 1.25], "nice": false, "zero": false}, "axis": {"orient": "bottom", "values": [-1.25, -0.75, -0.25, 0.25, 0.75, 1.25], "labels": false, "domain": true, "tickSize": 3, "title": null}},
            "x2": {"field": "x2"},
            "y": {"field": "y1", "type": "quantitative", "scale": {"domain": [-0.0000355, 0.00003], "nice": false, "zero": false}, "axis": {"orient": "left", "values": [-0.000035, -0.000025, -0.000015, -0.000005, 0.000005, 0.000015, 0.000025], "labels": false, "domain": true, "tickSize": 3, "title": null}},
            "y2": {"field": "y2"}
          }
        },
        {
          "data": {"name": "a"},
          "mark": {"type": "line", "strokeWidth": 3.5, "strokeJoin": "round", "strokeCap": "round"},
          "encoding": {
            "x": {"field": "E", "type": "quantitative", "scale": {"domain": [-1.27, 1.25], "nice": false, "zero": false}, "axis": {"orient": "bottom", "domain": true, "values": [-1, -0.5, 0, 0.5, 1], "labelExpr": "(datum.value < 0 ? '-' : '') + format(abs(datum.value), '.1f')", "title": "Potential (V)", "titlePadding": 12}},
            "y": {"field": "I", "type": "quantitative", "scale": {"domain": [-0.0000355, 0.00003], "nice": false, "zero": false}, "axis": {"orient": "left", "domain": true, "values": [-0.00003, -0.00002, -0.00001, 0, 0.00001, 0.00002, 0.00003], "labelExpr": "(datum.value < 0 ? '-' : '') + format(abs(datum.value), '.5f')", "title": "Current (A)", "titlePadding": 5, "titleY": 145}},
            "color": {"field": "s", "type": "nominal", "sort": ["1", "0.5", "0.1"], "scale": {"domain": ["1", "0.5", "0.1"], "range": ["#2e2e2e", "#858585", "#6c6c6c"]}, "legend": {"orient": "none", "legendX": 247, "legendY": -28, "title": null, "labelExpr": "'concentration ' + datum.label + ' mM'", "encode": {"symbols": {"update": {"strokeDash": {"signal": "datum.value === '1' ? [1, 0] : datum.value === '0.5' ? [2, 1.5] : [5, 2, 1.5, 2]"}}}}}},
            "detail": {"field": "c", "type": "nominal"},
            "order": {"field": "k", "type": "quantitative"}
          }
        },
        {
          "data": {"values": [{"x": -0.912, "y": 2.578e-5, "t": "a"}]},
          "mark": {"type": "text", "font": "Liberation Serif", "fontSize": 28, "color": "#222", "align": "center", "baseline": "alphabetic"},
          "encoding": {
            "x": {"field": "x", "type": "quantitative", "scale": {"domain": [-1.27, 1.25], "nice": false, "zero": false}, "axis": null},
            "y": {"field": "y", "type": "quantitative", "scale": {"domain": [-0.0000355, 0.00003], "nice": false, "zero": false}, "axis": null},
            "text": {"field": "t"}
          }
        }
      ]
    },
    {
      "width": 360,
      "height": 264,
      "resolve": {"axis": {"x": "independent", "y": "independent"}},
      "layer": [
        {
          "data": {"values": [{"x1": -1.913, "x2": 1.748, "y1": 7.705e-5, "y2": -7.5e-5}]},
          "mark": {"type": "rect", "filled": false, "stroke": "#1a1a1a", "strokeWidth": 2, "clip": false},
          "encoding": {
            "x": {"field": "x1", "type": "quantitative", "scale": {"domain": [-1.275, 1.25], "nice": false, "zero": false}, "axis": {"orient": "bottom", "values": [-1.25, -0.75, -0.25, 0.25, 0.75, 1.25], "labels": false, "domain": true, "tickSize": 3, "title": null}},
            "x2": {"field": "x2"},
            "y": {"field": "y1", "type": "quantitative", "scale": {"domain": [-0.00004, 0.00006], "nice": false, "zero": false}, "axis": {"orient": "left", "values": [-0.00003, -0.00001, 0.00001, 0.00003, 0.00005], "labels": false, "domain": true, "tickSize": 3, "title": null}},
            "y2": {"field": "y2"}
          }
        },
        {
          "data": {"name": "b"},
          "mark": {"type": "line", "strokeWidth": 3.5, "strokeJoin": "round", "strokeCap": "round"},
          "encoding": {
            "x": {"field": "E", "type": "quantitative", "scale": {"domain": [-1.275, 1.25], "nice": false, "zero": false}, "axis": {"orient": "bottom", "domain": true, "values": [-1, -0.5, 0, 0.5, 1], "labelExpr": "(datum.value < 0 ? '-' : '') + format(abs(datum.value), '.1f')", "title": "Potential (V)", "titlePadding": 7}},
            "y": {"field": "I", "type": "quantitative", "scale": {"domain": [-0.00004, 0.00006], "nice": false, "zero": false}, "axis": {"orient": "left", "domain": true, "values": [-0.00004, -0.00002, 0, 0.00002, 0.00004, 0.00006], "labelExpr": "(datum.value < 0 ? '-' : '') + format(abs(datum.value), '.5f')", "title": "Current (A)", "titlePadding": 5, "titleY": 151}},
            "color": {"field": "s", "type": "nominal", "sort": ["1", "0.5", "0.1"], "scale": {"domain": ["1", "0.5", "0.1"], "range": ["#2e2e2e", "#858585", "#6c6c6c"]}, "legend": {"orient": "none", "legendX": 257, "legendY": -36, "title": null, "labelExpr": "'concentration ' + datum.label + ' mM'", "encode": {"symbols": {"update": {"strokeDash": {"signal": "datum.value === '1' ? [1, 0] : datum.value === '0.5' ? [2, 1.5] : [5, 2, 1.5, 2]"}}}}}},
            "detail": {"field": "c", "type": "nominal"},
            "order": {"field": "k", "type": "quantitative"}
          }
        },
        {
          "data": {"values": [{"x": -0.952, "y": 5.356e-5, "t": "b"}]},
          "mark": {"type": "text", "font": "Liberation Serif", "fontSize": 28, "color": "#222", "align": "center", "baseline": "alphabetic"},
          "encoding": {
            "x": {"field": "x", "type": "quantitative", "scale": {"domain": [-1.275, 1.25], "nice": false, "zero": false}, "axis": null},
            "y": {"field": "y", "type": "quantitative", "scale": {"domain": [-0.00004, 0.00006], "nice": false, "zero": false}, "axis": null},
            "text": {"field": "t"}
          }
        }
      ]
    }
  ]
}
